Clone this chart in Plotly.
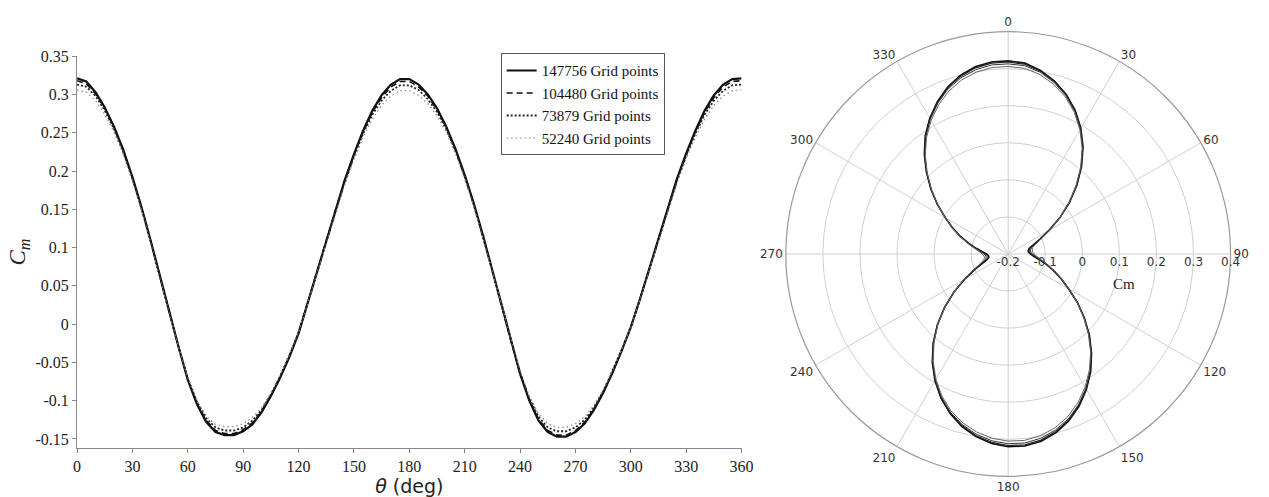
import plotly.graph_objects as go

theta = list(range(0, 361, 5))

cm_147756 = [0.321, 0.317, 0.303, 0.283, 0.258, 0.228, 0.192, 0.152, 0.108, 0.062,
             0.015, -0.030, -0.073, -0.105, -0.128, -0.141, -0.145, -0.145, -0.140, -0.131,
             -0.115, -0.094, -0.070, -0.043, -0.012, 0.028, 0.068, 0.110, 0.150, 0.188,
             0.222, 0.253, 0.279, 0.299, 0.313, 0.320, 0.320, 0.313, 0.300, 0.282,
             0.258, 0.229, 0.195, 0.157, 0.115, 0.070, 0.024, -0.022, -0.065, -0.100,
             -0.126, -0.141, -0.147, -0.147, -0.141, -0.130, -0.112, -0.090, -0.064, -0.035,
             -0.004, 0.033, 0.072, 0.112, 0.152, 0.190, 0.223, 0.253, 0.279, 0.299,
             0.313, 0.320, 0.321]

cm_104480 = [0.318, 0.314, 0.301, 0.282, 0.257, 0.227, 0.191, 0.151, 0.107, 0.061,
             0.015, -0.030, -0.072, -0.104, -0.126, -0.139, -0.143, -0.143, -0.138, -0.129,
             -0.114, -0.093, -0.069, -0.042, -0.011, 0.028, 0.068, 0.109, 0.149, 0.187,
             0.221, 0.251, 0.277, 0.296, 0.310, 0.317, 0.317, 0.310, 0.298, 0.280,
             0.257, 0.228, 0.194, 0.156, 0.114, 0.070, 0.024, -0.022, -0.064, -0.099,
             -0.124, -0.139, -0.145, -0.145, -0.139, -0.128, -0.111, -0.089, -0.063, -0.034,
             -0.004, 0.033, 0.072, 0.111, 0.151, 0.189, 0.222, 0.251, 0.277, 0.296,
             0.310, 0.317, 0.318]

cm_73879 = [0.313, 0.310, 0.298, 0.279, 0.255, 0.225, 0.190, 0.150, 0.106, 0.060,
            0.014, -0.030, -0.071, -0.102, -0.123, -0.135, -0.139, -0.139, -0.135, -0.126,
            -0.112, -0.092, -0.068, -0.041, -0.011, 0.027, 0.067, 0.108, 0.148, 0.185,
            0.219, 0.249, 0.274, 0.292, 0.305, 0.312, 0.312, 0.306, 0.294, 0.277,
            0.255, 0.226, 0.193, 0.155, 0.113, 0.069, 0.023, -0.022, -0.063, -0.097,
            -0.121, -0.135, -0.140, -0.140, -0.135, -0.125, -0.109, -0.088, -0.062, -0.034,
            -0.004, 0.032, 0.071, 0.110, 0.150, 0.187, 0.220, 0.249, 0.274, 0.292,
            0.305, 0.312, 0.313]

cm_52240 = [0.306, 0.303, 0.292, 0.274, 0.251, 0.222, 0.187, 0.148, 0.104, 0.058,
            0.013, -0.030, -0.070, -0.100, -0.120, -0.131, -0.134, -0.134, -0.130, -0.122,
            -0.109, -0.090, -0.067, -0.040, -0.010, 0.027, 0.066, 0.106, 0.146, 0.182,
            0.215, 0.244, 0.268, 0.286, 0.298, 0.305, 0.305, 0.299, 0.288, 0.272,
            0.251, 0.223, 0.190, 0.153, 0.111, 0.068, 0.023, -0.021, -0.061, -0.094,
            -0.117, -0.130, -0.135, -0.135, -0.130, -0.121, -0.106, -0.086, -0.061, -0.033,
            -0.004, 0.032, 0.070, 0.109, 0.148, 0.184, 0.216, 0.244, 0.268, 0.286,
            0.298, 0.305, 0.306]

series_names = ["147756 Grid points", "104480 Grid points", "73879 Grid points", "52240 Grid points"]
series_values = [cm_147756, cm_104480, cm_73879, cm_52240]

x_tick_vals = [0, 30, 60, 90, 120, 150, 180, 210, 240, 270, 300, 330, 360]
x_tick_text = ["0", "30", "60", "90", "120", "150", "180", "210", "240", "270", "300", "330", "360"]
y_tick_vals = [0.35, 0.3, 0.25, 0.2, 0.15, 0.1, 0.05, 0, -0.05, -0.1, -0.15]
y_tick_text = ["0.35", "0.3", "0.25", "0.2", "0.15", "0.1", "0.05", "0", "-0.05", "-0.1", "-0.15"]
r_tick_vals = [-0.2, -0.1, 0, 0.1, 0.2, 0.3, 0.4]
r_tick_text = ["-0.2", "-0.1", "0", "0.1", "0.2", "0.3", "0.4"]
ang_tick_vals = [0, 30, 60, 90, 120, 150, 180, 210, 240, 270, 300, 330]
ang_tick_text = ["0", "30", "60", "90", "120", "150", "180", "210", "240", "270", "300", "330"]

line_styles = [
    dict(color="#111111", width=2.2, dash="solid"),
    dict(color="#111111", width=1.6, dash="6px,4px"),
    dict(color="#222222", width=1.8, dash="2px,2px"),
    dict(color="#888888", width=1.2, dash="1.5px,3px"),
]

fig = go.Figure()

for name, vals, st in zip(series_names, series_values, line_styles):
    fig.add_trace(go.Scatter(x=theta, y=vals, mode="lines", name=name, line=st,
                             xaxis="x", yaxis="y"))

polar_styles = [
    dict(color="#111111", width=1.6),
    dict(color="#222222", width=1.2),
    dict(color="#333333", width=1.0),
    dict(color="#666666", width=1.0),
]
for name, vals, st in zip(series_names, series_values, polar_styles):
    fig.add_trace(go.Scatterpolar(theta=theta, r=vals, mode="lines", name=name,
                                  line=st, showlegend=False, subplot="polar"))

W, H = 1269, 497
fig.update_layout(
    width=W, height=H,
    margin=dict(l=0, r=0, t=0, b=0),
    paper_bgcolor="white", plot_bgcolor="white",
    xaxis=dict(domain=[74 / W, 747 / W], range=[0, 360], tickvals=x_tick_vals, ticktext=x_tick_text,
               showgrid=False, zeroline=False, showline=True, linecolor="#888888", linewidth=1.3,
               ticks="outside", ticklen=4, tickcolor="#888888",
               tickfont=dict(family="Liberation Serif", size=16, color="#222222"),
               title=dict(text="<i>θ</i> (deg)", font=dict(family="DejaVu Sans", size=19, color="#222222"),
                          standoff=4)),
    yaxis=dict(domain=[(H - 447) / H, (H - 49) / H], range=[-0.1616, 0.35], tickvals=y_tick_vals,
               ticktext=y_tick_text, showgrid=False, zeroline=False, showline=True,
               linecolor="#888888", linewidth=1.3, ticks="outside", ticklen=4, tickcolor="#888888",
               tickfont=dict(family="Liberation Serif", size=16, color="#222222"),
               title=dict(text="<i>C<sub>m</sub></i>", font=dict(family="Liberation Serif", size=23, color="#222222"),
                          standoff=3)),
    legend=dict(x=503 / W, y=1 - 46 / H, xanchor="left", yanchor="top",
                bgcolor="white", bordercolor="#555555", borderwidth=1,
                font=dict(family="Liberation Serif", size=15, color="#111111"),
                tracegroupgap=0, itemwidth=30),
    polar=dict(
        domain=dict(x=[(1017 - 226) / W, (1017 + 226) / W], y=[(H - 250 - 226) / H, (H - 250 + 226) / H]),
        bgcolor="white",
        angularaxis=dict(rotation=90, direction="clockwise", tickvals=ang_tick_vals, ticktext=ang_tick_text,
                         showline=True, linecolor="#999999", linewidth=1.2, gridcolor="#d0d0d0",
                         ticks="", tickfont=dict(family="DejaVu Sans", size=12, color="#333333")),
        radialaxis=dict(range=[-0.2, 0.4], tickvals=r_tick_vals, ticktext=r_tick_text, angle=0,
                        side="clockwise", showline=False, ticks="", gridcolor="#d0d0d0",
                        tickfont=dict(family="DejaVu Sans", size=12, color="#333333")),
    ),
    annotations=[dict(text="Cm", x=1147 / W, y=1 - 281 / H, xref="paper", yref="paper",
                      showarrow=False, font=dict(family="Liberation Serif", size=15, color="#222222"))],
)

fig.write_html("out.html")
